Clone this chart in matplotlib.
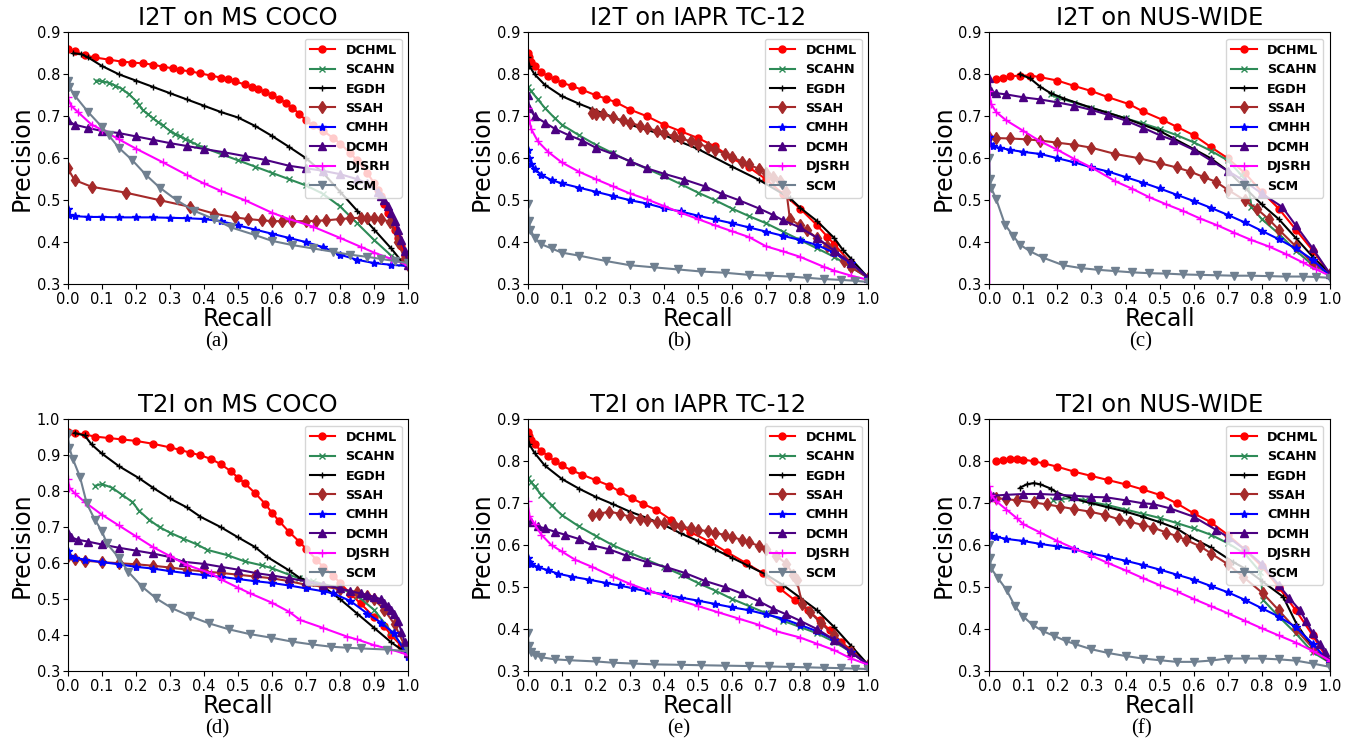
import numpy as np
import matplotlib
matplotlib.use("Agg")
import matplotlib.pyplot as plt

# ---- methods / legend ----
METHODS = ["DCHML", "SCAHN", "EGDH", "SSAH", "CMHH", "DCMH", "DJSRH", "SCM"]

# ---- (a) I2T on MS COCO : (recall, precision) ----
A_DCHML = [(0.0, 0.86), (0.02, 0.855), (0.05, 0.845), (0.08, 0.84), (0.12, 0.835), (0.16, 0.83),
           (0.19, 0.828), (0.22, 0.826), (0.25, 0.823), (0.28, 0.818), (0.31, 0.814), (0.33, 0.81),
           (0.36, 0.807), (0.39, 0.802), (0.42, 0.797), (0.45, 0.792), (0.47, 0.788), (0.49, 0.783),
           (0.52, 0.776), (0.54, 0.77), (0.56, 0.764), (0.58, 0.758), (0.6, 0.75), (0.62, 0.742),
           (0.64, 0.732), (0.66, 0.72), (0.68, 0.706), (0.7, 0.69), (0.72, 0.678), (0.75, 0.665),
           (0.78, 0.648), (0.8, 0.635), (0.83, 0.612), (0.85, 0.595), (0.88, 0.565), (0.9, 0.54),
           (0.91, 0.525), (0.92, 0.51), (0.93, 0.49), (0.94, 0.47), (0.95, 0.45), (0.96, 0.43),
           (0.97, 0.41), (0.98, 0.39), (0.99, 0.368), (1.0, 0.345)]
A_SCAHN = [(0.084, 0.785), (0.1, 0.783), (0.12, 0.78), (0.14, 0.773), (0.16, 0.765), (0.18, 0.752),
           (0.2, 0.737), (0.21, 0.726), (0.22, 0.715), (0.235, 0.705), (0.25, 0.695), (0.265, 0.686),
           (0.28, 0.678), (0.3, 0.665), (0.315, 0.658), (0.33, 0.652), (0.345, 0.646), (0.36, 0.64),
           (0.38, 0.632), (0.4, 0.625), (0.45, 0.61), (0.5, 0.595), (0.55, 0.58), (0.6, 0.565),
           (0.65, 0.55), (0.7, 0.535), (0.75, 0.515), (0.8, 0.485), (0.85, 0.445), (0.9, 0.405),
           (0.95, 0.368), (0.98, 0.35), (1.0, 0.345)]
A_EGDH = [(0.017, 0.85), (0.04, 0.848), (0.06, 0.84), (0.1, 0.82), (0.15, 0.80), (0.2, 0.785),
          (0.25, 0.77), (0.3, 0.755), (0.35, 0.74), (0.4, 0.725), (0.45, 0.71), (0.5, 0.697),
          (0.55, 0.677), (0.6, 0.653), (0.65, 0.627), (0.7, 0.6), (0.75, 0.565), (0.8, 0.52),
          (0.85, 0.475), (0.9, 0.43), (0.95, 0.385), (0.98, 0.355), (1.0, 0.345)]
A_SSAH = [(0.0, 0.576), (0.02, 0.548), (0.07, 0.532), (0.17, 0.518), (0.27, 0.5), (0.36, 0.484),
          (0.43, 0.468), (0.49, 0.459), (0.53, 0.455), (0.57, 0.452), (0.6, 0.45), (0.63, 0.45),
          (0.66, 0.45), (0.7, 0.45), (0.73, 0.451), (0.76, 0.452), (0.8, 0.455), (0.83, 0.457),
          (0.86, 0.458), (0.88, 0.457), (0.9, 0.457), (0.92, 0.455), (0.948, 0.448), (0.97, 0.4),
          (0.99, 0.36), (1.0, 0.345)]
A_CMHH = [(0.0, 0.48), (0.005, 0.465), (0.02, 0.462), (0.06, 0.46), (0.1, 0.46), (0.15, 0.459),
          (0.2, 0.459), (0.25, 0.459), (0.3, 0.458), (0.35, 0.457), (0.4, 0.455), (0.45, 0.45),
          (0.5, 0.44), (0.55, 0.43), (0.6, 0.42), (0.65, 0.41), (0.7, 0.4), (0.75, 0.388),
          (0.8, 0.37), (0.85, 0.358), (0.9, 0.35), (0.95, 0.346), (1.0, 0.343)]
A_DCMH = [(0.0, 0.69), (0.02, 0.68), (0.06, 0.672), (0.1, 0.665), (0.15, 0.66), (0.2, 0.652),
          (0.25, 0.644), (0.3, 0.636), (0.35, 0.629), (0.4, 0.622), (0.46, 0.614), (0.52, 0.605),
          (0.58, 0.596), (0.65, 0.582), (0.7, 0.576), (0.75, 0.57), (0.8, 0.562), (0.85, 0.55),
          (0.88, 0.54), (0.91, 0.52), (0.92, 0.51), (0.93, 0.5), (0.94, 0.485), (0.95, 0.47),
          (0.96, 0.45), (0.97, 0.43), (0.98, 0.405), (0.99, 0.38), (1.0, 0.345)]
A_DJSRH = [(0.0, 0.745), (0.01, 0.725), (0.03, 0.71), (0.07, 0.68), (0.1, 0.668), (0.15, 0.645),
           (0.2, 0.623), (0.28, 0.59), (0.35, 0.56), (0.4, 0.54), (0.45, 0.522), (0.52, 0.5),
           (0.6, 0.47), (0.65, 0.455), (0.72, 0.437), (0.8, 0.41), (0.86, 0.389), (0.9, 0.375),
           (0.95, 0.36), (1.0, 0.345)]
A_SCM = [(0.0, 0.785), (0.005, 0.77), (0.02, 0.75), (0.06, 0.71), (0.1, 0.675), (0.12, 0.655),
         (0.15, 0.625), (0.19, 0.595), (0.23, 0.56), (0.27, 0.53), (0.32, 0.5), (0.37, 0.475),
         (0.43, 0.455), (0.48, 0.435), (0.55, 0.417), (0.6, 0.403), (0.66, 0.393), (0.72, 0.385),
         (0.78, 0.377), (0.83, 0.37), (0.88, 0.365), (0.92, 0.36), (0.96, 0.355), (1.0, 0.35)]

# ---- (b) I2T on IAPR TC-12 ----
B_DCHML = [(0.0, 0.85), (0.005, 0.84), (0.01, 0.83), (0.02, 0.82), (0.04, 0.805), (0.06, 0.795),
           (0.08, 0.788), (0.1, 0.78), (0.13, 0.772), (0.16, 0.763), (0.2, 0.75), (0.23, 0.742),
           (0.26, 0.733), (0.3, 0.716), (0.35, 0.7), (0.4, 0.68), (0.45, 0.664), (0.5, 0.648),
           (0.55, 0.628), (0.6, 0.6), (0.65, 0.578), (0.7, 0.55), (0.75, 0.515), (0.8, 0.48),
           (0.85, 0.44), (0.88, 0.413), (0.9, 0.395), (0.95, 0.35), (1.0, 0.315)]
B_SCAHN = [(0.0, 0.77), (0.01, 0.76), (0.03, 0.74), (0.05, 0.72), (0.08, 0.695), (0.1, 0.68),
           (0.15, 0.655), (0.2, 0.632), (0.25, 0.612), (0.3, 0.592), (0.35, 0.575), (0.4, 0.557),
           (0.45, 0.538), (0.5, 0.518), (0.55, 0.5), (0.6, 0.48), (0.65, 0.462), (0.7, 0.445),
           (0.75, 0.425), (0.8, 0.405), (0.85, 0.385), (0.9, 0.365), (0.95, 0.34), (1.0, 0.315)]
B_EGDH = [(0.0, 0.84), (0.005, 0.82), (0.02, 0.8), (0.05, 0.775), (0.1, 0.748), (0.15, 0.73),
          (0.19, 0.717), (0.25, 0.698), (0.3, 0.68), (0.4, 0.655), (0.5, 0.622), (0.6, 0.58),
          (0.68, 0.548), (0.77, 0.505), (0.8, 0.482), (0.85, 0.45), (0.9, 0.41), (0.926, 0.381),
          (0.95, 0.36), (1.0, 0.315)]
B_SSAH = [(0.188, 0.707), (0.2, 0.706), (0.22, 0.705), (0.25, 0.697), (0.28, 0.69), (0.3, 0.685),
          (0.33, 0.677), (0.35, 0.672), (0.38, 0.665), (0.4, 0.66), (0.43, 0.652), (0.45, 0.647),
          (0.48, 0.64), (0.5, 0.635), (0.53, 0.626), (0.55, 0.62), (0.58, 0.61), (0.6, 0.603),
          (0.63, 0.592), (0.65, 0.585), (0.68, 0.574), (0.7, 0.565), (0.72, 0.556), (0.74, 0.545),
          (0.76, 0.52), (0.77, 0.455), (0.8, 0.44), (0.82, 0.428), (0.85, 0.41), (0.88, 0.39),
          (0.9, 0.378), (0.93, 0.355), (0.95, 0.34), (1.0, 0.315)]
B_CMHH = [(0.0, 0.62), (0.003, 0.6), (0.01, 0.585), (0.02, 0.575), (0.04, 0.56), (0.07, 0.548),
          (0.1, 0.54), (0.15, 0.53), (0.2, 0.52), (0.25, 0.51), (0.3, 0.5), (0.35, 0.492),
          (0.4, 0.481), (0.45, 0.473), (0.5, 0.463), (0.55, 0.454), (0.6, 0.445), (0.65, 0.435),
          (0.7, 0.425), (0.75, 0.415), (0.8, 0.405), (0.85, 0.393), (0.9, 0.375), (0.95, 0.35),
          (1.0, 0.315)]
B_DCMH = [(0.0, 0.75), (0.005, 0.72), (0.02, 0.7), (0.05, 0.685), (0.08, 0.67), (0.12, 0.655),
          (0.16, 0.642), (0.2, 0.625), (0.25, 0.61), (0.3, 0.593), (0.35, 0.576), (0.4, 0.563),
          (0.46, 0.549), (0.52, 0.533), (0.57, 0.515), (0.62, 0.5), (0.68, 0.48), (0.72, 0.465),
          (0.75, 0.452), (0.8, 0.435), (0.85, 0.41), (0.9, 0.38), (0.95, 0.35), (1.0, 0.315)]
B_DJSRH = [(0.0, 0.0), (0.0, 0.72), (0.005, 0.69), (0.01, 0.67), (0.03, 0.64), (0.06, 0.615),
           (0.1, 0.59), (0.15, 0.568), (0.2, 0.55), (0.25, 0.533), (0.3, 0.516), (0.35, 0.502),
           (0.4, 0.486), (0.45, 0.47), (0.5, 0.455), (0.55, 0.44), (0.6, 0.426), (0.65, 0.412),
           (0.7, 0.39), (0.75, 0.378), (0.8, 0.365), (0.87, 0.341), (0.9, 0.332), (0.95, 0.32),
           (1.0, 0.31)]
B_SCM = [(0.0, 0.49), (0.003, 0.45), (0.008, 0.43), (0.02, 0.41), (0.04, 0.395), (0.07, 0.385),
         (0.1, 0.375), (0.15, 0.368), (0.23, 0.355), (0.3, 0.345), (0.37, 0.34), (0.44, 0.335),
         (0.51, 0.33), (0.58, 0.327), (0.65, 0.322), (0.71, 0.32), (0.77, 0.318), (0.82, 0.315),
         (0.87, 0.312), (0.92, 0.31), (0.96, 0.308), (1.0, 0.305)]

# ---- (c) I2T on NUS-WIDE ----
C_DCHML = [(0.02, 0.788), (0.04, 0.79), (0.06, 0.795), (0.09, 0.797), (0.12, 0.797), (0.15, 0.793),
           (0.2, 0.785), (0.25, 0.772), (0.3, 0.76), (0.35, 0.745), (0.41, 0.729), (0.45, 0.712),
           (0.51, 0.691), (0.55, 0.675), (0.6, 0.655), (0.65, 0.627), (0.7, 0.6), (0.75, 0.565),
           (0.8, 0.52), (0.85, 0.48), (0.9, 0.43), (0.95, 0.38), (1.0, 0.325)]
C_SCAHN = [(0.18, 0.752), (0.2, 0.745), (0.25, 0.732), (0.3, 0.72), (0.35, 0.708), (0.4, 0.695),
           (0.45, 0.683), (0.5, 0.67), (0.55, 0.655), (0.6, 0.638), (0.65, 0.618), (0.7, 0.595),
           (0.74, 0.56), (0.76, 0.54), (0.77, 0.484), (0.8, 0.455), (0.85, 0.42), (0.9, 0.38),
           (0.95, 0.345), (1.0, 0.325)]
C_EGDH = [(0.09, 0.8), (0.12, 0.79), (0.15, 0.77), (0.18, 0.755), (0.22, 0.742), (0.3, 0.72),
          (0.4, 0.695), (0.5, 0.665), (0.6, 0.622), (0.65, 0.6), (0.7, 0.57), (0.75, 0.53),
          (0.8, 0.49), (0.85, 0.455), (0.9, 0.41), (0.95, 0.365), (1.0, 0.325)]
C_SSAH = [(0.0, 0.65), (0.02, 0.648), (0.06, 0.647), (0.11, 0.645), (0.15, 0.642), (0.2, 0.637),
          (0.25, 0.632), (0.3, 0.625), (0.37, 0.61), (0.44, 0.6), (0.5, 0.588), (0.55, 0.578),
          (0.59, 0.568), (0.63, 0.555), (0.665, 0.544), (0.7, 0.525), (0.75, 0.5), (0.785, 0.48),
          (0.82, 0.455), (0.85, 0.43), (0.9, 0.39), (0.95, 0.35), (1.0, 0.325)]
C_CMHH = [(0.0, 0.65), (0.003, 0.635), (0.01, 0.628), (0.03, 0.625), (0.06, 0.62), (0.1, 0.615),
          (0.15, 0.61), (0.2, 0.6), (0.25, 0.59), (0.3, 0.578), (0.35, 0.568), (0.4, 0.555),
          (0.45, 0.542), (0.5, 0.528), (0.55, 0.513), (0.6, 0.498), (0.65, 0.482), (0.7, 0.465),
          (0.75, 0.447), (0.8, 0.427), (0.85, 0.407), (0.9, 0.385), (0.95, 0.358), (1.0, 0.32)]
C_DCMH = [(0.0, 0.79), (0.005, 0.76), (0.02, 0.755), (0.05, 0.752), (0.1, 0.745), (0.15, 0.74),
          (0.2, 0.733), (0.25, 0.725), (0.3, 0.715), (0.35, 0.703), (0.4, 0.69), (0.45, 0.673),
          (0.5, 0.655), (0.54, 0.643), (0.6, 0.62), (0.65, 0.595), (0.7, 0.57), (0.75, 0.545),
          (0.8, 0.516), (0.86, 0.484), (0.9, 0.44), (0.95, 0.385), (1.0, 0.325)]
C_DJSRH = [(0.0, 0.0), (0.0, 0.76), (0.005, 0.73), (0.02, 0.71), (0.05, 0.69), (0.1, 0.665),
           (0.15, 0.64), (0.2, 0.62), (0.25, 0.598), (0.3, 0.578), (0.37, 0.545), (0.42, 0.527),
           (0.47, 0.507), (0.52, 0.49), (0.57, 0.474), (0.62, 0.456), (0.67, 0.44), (0.72, 0.422),
           (0.77, 0.405), (0.82, 0.39), (0.87, 0.372), (0.92, 0.352), (0.96, 0.335), (1.0, 0.32)]
C_SCM = [(0.0, 0.6), (0.002, 0.55), (0.005, 0.53), (0.02, 0.503), (0.046, 0.442), (0.07, 0.415),
         (0.09, 0.394), (0.12, 0.378), (0.158, 0.363), (0.217, 0.345), (0.27, 0.338), (0.32, 0.334),
         (0.37, 0.331), (0.42, 0.328), (0.47, 0.326), (0.52, 0.325), (0.57, 0.323), (0.62, 0.322),
         (0.67, 0.321), (0.72, 0.32), (0.77, 0.32), (0.82, 0.319), (0.87, 0.318), (0.92, 0.318),
         (0.96, 0.317), (1.0, 0.315)]

# ---- (d) T2I on MS COCO ----
D_DCHML = [(0.0, 0.965), (0.02, 0.962), (0.05, 0.958), (0.08, 0.952), (0.12, 0.948), (0.16, 0.944),
           (0.2, 0.94), (0.25, 0.932), (0.3, 0.922), (0.33, 0.915), (0.36, 0.907), (0.39, 0.9),
           (0.42, 0.89), (0.45, 0.875), (0.48, 0.855), (0.5, 0.838), (0.52, 0.822), (0.55, 0.795),
           (0.58, 0.765), (0.6, 0.74), (0.62, 0.718), (0.65, 0.687), (0.68, 0.66), (0.7, 0.64),
           (0.73, 0.61), (0.75, 0.59), (0.78, 0.565), (0.8, 0.545), (0.83, 0.515), (0.86, 0.488),
           (0.9, 0.45), (0.93, 0.424), (0.95, 0.4), (0.98, 0.37), (1.0, 0.35)]
D_SCAHN = [(0.08, 0.815), (0.1, 0.82), (0.13, 0.81), (0.16, 0.79), (0.19, 0.77), (0.21, 0.745),
           (0.24, 0.72), (0.27, 0.7), (0.3, 0.685), (0.34, 0.668), (0.38, 0.652), (0.41, 0.637),
           (0.47, 0.622), (0.52, 0.605), (0.57, 0.594), (0.6, 0.586), (0.65, 0.568), (0.68, 0.558),
           (0.72, 0.55), (0.8, 0.53), (0.85, 0.51), (0.9, 0.47), (0.95, 0.41), (1.0, 0.35)]
D_EGDH = [(0.02, 0.962), (0.05, 0.955), (0.07, 0.93), (0.1, 0.905), (0.15, 0.87), (0.21, 0.836),
          (0.25, 0.81), (0.3, 0.78), (0.35, 0.755), (0.39, 0.729), (0.45, 0.7), (0.5, 0.672),
          (0.55, 0.645), (0.585, 0.618), (0.65, 0.58), (0.683, 0.558), (0.72, 0.545), (0.75, 0.535),
          (0.8, 0.5), (0.85, 0.46), (0.9, 0.42), (0.95, 0.38), (0.98, 0.36), (1.0, 0.345)]
D_SSAH = [(0.0, 0.62), (0.02, 0.612), (0.05, 0.607), (0.1, 0.603), (0.15, 0.6), (0.2, 0.597),
          (0.25, 0.593), (0.3, 0.588), (0.35, 0.582), (0.4, 0.577), (0.45, 0.573), (0.5, 0.568),
          (0.55, 0.563), (0.6, 0.558), (0.65, 0.55), (0.7, 0.54), (0.75, 0.535), (0.8, 0.528),
          (0.85, 0.52), (0.88, 0.51), (0.9, 0.5), (0.93, 0.47), (0.96, 0.43), (1.0, 0.35)]
D_CMHH = [(0.0, 0.635), (0.005, 0.62), (0.02, 0.615), (0.05, 0.61), (0.1, 0.603), (0.15, 0.597),
          (0.2, 0.59), (0.25, 0.585), (0.3, 0.578), (0.35, 0.572), (0.4, 0.567), (0.45, 0.562),
          (0.5, 0.556), (0.55, 0.55), (0.6, 0.545), (0.65, 0.538), (0.7, 0.53), (0.75, 0.522),
          (0.78, 0.516), (0.83, 0.495), (0.88, 0.46), (0.92, 0.435), (0.958, 0.405), (1.0, 0.34)]
D_DCMH = [(0.0, 0.685), (0.01, 0.672), (0.03, 0.665), (0.06, 0.66), (0.1, 0.652), (0.15, 0.643),
          (0.2, 0.635), (0.25, 0.627), (0.3, 0.617), (0.34, 0.604), (0.4, 0.598), (0.45, 0.59),
          (0.5, 0.582), (0.556, 0.572), (0.6, 0.566), (0.65, 0.558), (0.7, 0.55), (0.75, 0.54),
          (0.8, 0.53), (0.83, 0.522), (0.86, 0.516), (0.88, 0.512), (0.9, 0.506), (0.92, 0.5),
          (0.93, 0.49), (0.94, 0.48), (0.95, 0.47), (0.958, 0.46), (0.97, 0.44), (0.98, 0.41),
          (0.99, 0.38), (1.0, 0.35)]
D_DJSRH = [(0.0, 0.835), (0.005, 0.81), (0.02, 0.795), (0.05, 0.77), (0.1, 0.735), (0.15, 0.705),
           (0.2, 0.675), (0.25, 0.645), (0.3, 0.62), (0.35, 0.595), (0.42, 0.572), (0.45, 0.555),
           (0.5, 0.532), (0.536, 0.516), (0.6, 0.49), (0.65, 0.465), (0.683, 0.442), (0.75, 0.42),
           (0.82, 0.396), (0.85, 0.388), (0.9, 0.372), (0.95, 0.36), (1.0, 0.345)]
D_SCM = [(0.0, 0.96), (0.005, 0.92), (0.015, 0.89), (0.036, 0.84), (0.056, 0.766), (0.08, 0.72),
         (0.1, 0.69), (0.115, 0.655), (0.15, 0.615), (0.178, 0.576), (0.218, 0.535), (0.26, 0.502),
         (0.306, 0.475), (0.358, 0.453), (0.414, 0.433), (0.474, 0.416), (0.534, 0.403),
         (0.597, 0.393), (0.659, 0.382), (0.718, 0.374), (0.772, 0.368), (0.82, 0.365),
         (0.86, 0.363), (0.938, 0.36), (1.0, 0.355)]

# ---- (e) T2I on IAPR TC-12 ----
E_DCHML = [(0.0, 0.87), (0.005, 0.86), (0.01, 0.85), (0.02, 0.84), (0.04, 0.825), (0.06, 0.812),
           (0.08, 0.8), (0.1, 0.79), (0.13, 0.778), (0.16, 0.768), (0.2, 0.755), (0.24, 0.742),
           (0.27, 0.728), (0.305, 0.712), (0.34, 0.698), (0.378, 0.684), (0.422, 0.66),
           (0.476, 0.632), (0.535, 0.608), (0.584, 0.584), (0.642, 0.557), (0.691, 0.533),
           (0.74, 0.497), (0.784, 0.469), (0.823, 0.445), (0.857, 0.421), (0.887, 0.398),
           (0.92, 0.37), (0.95, 0.35), (1.0, 0.315)]
E_SCAHN = [(0.0, 0.76), (0.01, 0.75), (0.02, 0.74), (0.04, 0.72), (0.07, 0.695), (0.1, 0.672),
           (0.15, 0.645), (0.2, 0.622), (0.25, 0.6), (0.3, 0.582), (0.35, 0.565), (0.4, 0.548),
           (0.45, 0.53), (0.5, 0.51), (0.55, 0.492), (0.6, 0.472), (0.65, 0.455), (0.7, 0.438),
           (0.75, 0.42), (0.8, 0.405), (0.85, 0.39), (0.9, 0.37), (0.95, 0.345), (1.0, 0.315)]
E_EGDH = [(0.0, 0.86), (0.005, 0.84), (0.02, 0.82), (0.05, 0.79), (0.1, 0.758), (0.15, 0.735),
          (0.2, 0.715), (0.25, 0.698), (0.3, 0.68), (0.35, 0.665), (0.4, 0.648), (0.45, 0.628),
          (0.5, 0.61), (0.55, 0.59), (0.6, 0.57), (0.65, 0.55), (0.7, 0.53), (0.75, 0.505),
          (0.8, 0.475), (0.85, 0.445), (0.9, 0.405), (0.95, 0.36), (1.0, 0.315)]
E_SSAH = [(0.19, 0.672), (0.21, 0.675), (0.24, 0.68), (0.27, 0.675), (0.3, 0.668), (0.33, 0.663),
          (0.35, 0.66), (0.38, 0.655), (0.4, 0.652), (0.43, 0.648), (0.45, 0.645), (0.48, 0.64),
          (0.5, 0.637), (0.53, 0.633), (0.55, 0.63), (0.58, 0.624), (0.6, 0.62), (0.63, 0.612),
          (0.65, 0.607), (0.68, 0.598), (0.7, 0.59), (0.73, 0.575), (0.76, 0.555), (0.78, 0.53),
          (0.79, 0.517), (0.806, 0.461), (0.83, 0.44), (0.86, 0.415), (0.9, 0.385), (0.95, 0.345),
          (1.0, 0.315)]
E_CMHH = [(0.0, 0.57), (0.005, 0.56), (0.01, 0.555), (0.03, 0.548), (0.06, 0.54), (0.09, 0.532),
          (0.13, 0.525), (0.18, 0.518), (0.23, 0.51), (0.27, 0.504), (0.31, 0.497), (0.35, 0.49),
          (0.4, 0.483), (0.45, 0.475), (0.5, 0.468), (0.55, 0.46), (0.6, 0.452), (0.65, 0.445),
          (0.7, 0.435), (0.75, 0.425), (0.8, 0.41), (0.85, 0.395), (0.9, 0.375), (0.95, 0.345),
          (1.0, 0.315)]
E_DCMH = [(0.0, 0.665), (0.01, 0.655), (0.03, 0.645), (0.05, 0.64), (0.08, 0.632), (0.11, 0.625),
          (0.15, 0.615), (0.19, 0.6), (0.24, 0.59), (0.29, 0.575), (0.349, 0.56), (0.41, 0.547),
          (0.461, 0.534), (0.52, 0.515), (0.58, 0.5), (0.628, 0.485), (0.68, 0.466), (0.72, 0.449),
          (0.76, 0.435), (0.8, 0.42), (0.85, 0.4), (0.9, 0.375), (0.95, 0.345), (1.0, 0.315)]
E_DJSRH = [(0.0, 0.0), (0.0, 0.705), (0.005, 0.67), (0.02, 0.65), (0.04, 0.625), (0.07, 0.6),
           (0.1, 0.585), (0.14, 0.565), (0.19, 0.548), (0.25, 0.525), (0.3, 0.508), (0.36, 0.49),
           (0.42, 0.475), (0.5, 0.455), (0.56, 0.44), (0.62, 0.425), (0.68, 0.41), (0.73, 0.395),
           (0.8, 0.38), (0.85, 0.365), (0.9, 0.35), (0.95, 0.33), (1.0, 0.315)]
E_SCM = [(0.0, 0.39), (0.003, 0.36), (0.01, 0.345), (0.02, 0.338), (0.04, 0.333), (0.08, 0.328),
         (0.12, 0.326), (0.2, 0.323), (0.25, 0.32), (0.31, 0.318), (0.37, 0.316), (0.45, 0.315),
         (0.51, 0.314), (0.58, 0.313), (0.65, 0.312), (0.71, 0.311), (0.77, 0.31), (0.82, 0.309),
         (0.87, 0.308), (0.92, 0.307), (0.96, 0.306), (1.0, 0.305)]

# ---- (f) T2I on NUS-WIDE ----
F_DCHML = [(0.02, 0.8), (0.04, 0.804), (0.06, 0.805), (0.08, 0.806), (0.1, 0.804), (0.13, 0.8),
           (0.16, 0.795), (0.2, 0.787), (0.25, 0.775), (0.3, 0.765), (0.35, 0.755), (0.4, 0.745),
           (0.45, 0.733), (0.5, 0.72), (0.55, 0.7), (0.6, 0.676), (0.65, 0.655), (0.7, 0.625),
           (0.75, 0.59), (0.8, 0.55), (0.85, 0.5), (0.9, 0.445), (0.95, 0.385), (1.0, 0.32)]
F_SCAHN = [(0.188, 0.708), (0.21, 0.71), (0.24, 0.712), (0.28, 0.708), (0.3, 0.703), (0.35, 0.695),
           (0.4, 0.685), (0.45, 0.675), (0.5, 0.665), (0.55, 0.653), (0.6, 0.64), (0.65, 0.625),
           (0.7, 0.605), (0.75, 0.58), (0.795, 0.537), (0.805, 0.469), (0.85, 0.43), (0.9, 0.39),
           (0.95, 0.345), (1.0, 0.32)]
F_EGDH = [(0.09, 0.737), (0.11, 0.745), (0.13, 0.748), (0.15, 0.745), (0.18, 0.735), (0.2, 0.725),
          (0.25, 0.71), (0.3, 0.7), (0.35, 0.69), (0.4, 0.68), (0.45, 0.668), (0.5, 0.655),
          (0.55, 0.64), (0.589, 0.62), (0.65, 0.595), (0.716, 0.56), (0.75, 0.545), (0.8, 0.515),
          (0.863, 0.477), (0.902, 0.413), (0.95, 0.355), (1.0, 0.32)]
F_SSAH = [(0.0, 0.715), (0.02, 0.712), (0.05, 0.71), (0.08, 0.707), (0.13, 0.702), (0.17, 0.697),
          (0.207, 0.692), (0.25, 0.686), (0.295, 0.68), (0.34, 0.672), (0.38, 0.662), (0.413, 0.656),
          (0.45, 0.648), (0.481, 0.642), (0.52, 0.63), (0.55, 0.622), (0.579, 0.612), (0.62, 0.597),
          (0.652, 0.58), (0.7, 0.555), (0.745, 0.525), (0.804, 0.485), (0.85, 0.445), (0.9, 0.4),
          (0.95, 0.355), (1.0, 0.32)]
F_CMHH = [(0.0, 0.63), (0.005, 0.622), (0.02, 0.62), (0.05, 0.615), (0.1, 0.61), (0.15, 0.603),
          (0.2, 0.597), (0.25, 0.59), (0.3, 0.58), (0.35, 0.572), (0.4, 0.563), (0.45, 0.553),
          (0.5, 0.542), (0.55, 0.53), (0.6, 0.518), (0.65, 0.503), (0.7, 0.488), (0.75, 0.47),
          (0.8, 0.45), (0.85, 0.43), (0.9, 0.405), (0.95, 0.365), (1.0, 0.32)]
F_DCMH = [(0.0, 0.715), (0.01, 0.718), (0.05, 0.72), (0.1, 0.722), (0.15, 0.722), (0.2, 0.72),
          (0.25, 0.718), (0.3, 0.715), (0.344, 0.714), (0.4, 0.707), (0.45, 0.7), (0.481, 0.698),
          (0.53, 0.688), (0.6, 0.668), (0.667, 0.636), (0.7, 0.62), (0.75, 0.59), (0.8, 0.555),
          (0.85, 0.505), (0.88, 0.475), (0.912, 0.445), (0.93, 0.42), (0.95, 0.39), (0.97, 0.365),
          (0.985, 0.345), (1.0, 0.325)]
F_DJSRH = [(0.0, 0.0), (0.0, 0.74), (0.005, 0.72), (0.02, 0.705), (0.05, 0.685), (0.08, 0.665),
           (0.1, 0.65), (0.15, 0.63), (0.2, 0.61), (0.25, 0.592), (0.3, 0.575), (0.35, 0.557),
           (0.4, 0.54), (0.45, 0.522), (0.5, 0.505), (0.55, 0.49), (0.6, 0.472), (0.65, 0.455),
           (0.7, 0.438), (0.75, 0.42), (0.8, 0.402), (0.85, 0.385), (0.9, 0.368), (0.95, 0.348),
           (1.0, 0.325)]
F_SCM = [(0.0, 0.6), (0.002, 0.57), (0.005, 0.545), (0.026, 0.521), (0.051, 0.493), (0.075, 0.455),
         (0.1, 0.43), (0.127, 0.41), (0.158, 0.395), (0.19, 0.384), (0.224, 0.372), (0.253, 0.364),
         (0.3, 0.352), (0.35, 0.343), (0.4, 0.336), (0.45, 0.33), (0.5, 0.326), (0.55, 0.322),
         (0.6, 0.322), (0.65, 0.325), (0.7, 0.33), (0.75, 0.33), (0.8, 0.33), (0.85, 0.328),
         (0.9, 0.325), (0.95, 0.318), (1.0, 0.31)]

TITLES = ["I2T on MS COCO", "I2T on IAPR TC-12", "I2T on NUS-WIDE",
          "T2I on MS COCO", "T2I on IAPR TC-12", "T2I on NUS-WIDE"]
CAPTIONS = ["(a)", "(b)", "(c)", "(d)", "(e)", "(f)"]
YLIMS = [(0.3, 0.9), (0.3, 0.9), (0.3, 0.9), (0.3, 1.0), (0.3, 0.9), (0.3, 0.9)]
SERIES = [
    [A_DCHML, A_SCAHN, A_EGDH, A_SSAH, A_CMHH, A_DCMH, A_DJSRH, A_SCM],
    [B_DCHML, B_SCAHN, B_EGDH, B_SSAH, B_CMHH, B_DCMH, B_DJSRH, B_SCM],
    [C_DCHML, C_SCAHN, C_EGDH, C_SSAH, C_CMHH, C_DCMH, C_DJSRH, C_SCM],
    [D_DCHML, D_SCAHN, D_EGDH, D_SSAH, D_CMHH, D_DCMH, D_DJSRH, D_SCM],
    [E_DCHML, E_SCAHN, E_EGDH, E_SSAH, E_CMHH, E_DCMH, E_DJSRH, E_SCM],
    [F_DCHML, F_SCAHN, F_EGDH, F_SSAH, F_CMHH, F_DCMH, F_DJSRH, F_SCM],
]

# line styles per method
STYLES = {
    "DCHML": dict(color="red", marker="o", ms=5),
    "SCAHN": dict(color="seagreen", marker="x", ms=5),
    "EGDH": dict(color="black", marker="+", ms=4),
    "SSAH": dict(color="brown", marker="d", ms=6),
    "CMHH": dict(color="blue", marker="*", ms=6),
    "DCMH": dict(color="indigo", marker="^", ms=6),
    "DJSRH": dict(color="magenta", marker="+", ms=6),
    "SCM": dict(color="slategray", marker="v", ms=6),
}

W, H = 1354, 742
fig = plt.figure(figsize=(W / 100, H / 100), dpi=100)

col_left = [67.7, 527.7, 989.3]
ax_w = 340.5
row_top = [32.3, 419.3]
ax_h = 251.8
cap_y = [342, 729]
cap_x = [217, 679, 1141]

for i in range(6):
    r, c = divmod(i, 3)
    ax = fig.add_axes([col_left[c] / W, (H - row_top[r] - ax_h) / H, ax_w / W, ax_h / H])
    for name, pts in zip(METHODS, SERIES[i]):
        pts = np.array(pts)
        st = STYLES[name]
        ax.plot(pts[:, 0], pts[:, 1], color=st["color"], marker=st["marker"],
                markersize=st["ms"], linewidth=1.5, label=name)
    ax.set_xlim(0, 1)
    ax.set_ylim(*YLIMS[i])
    ax.set_xticks(np.arange(0, 1.01, 0.1))
    ax.set_yticks(np.arange(YLIMS[i][0], YLIMS[i][1] + 0.001, 0.1))
    ax.xaxis.set_major_formatter(matplotlib.ticker.FormatStrFormatter("%.1f"))
    ax.yaxis.set_major_formatter(matplotlib.ticker.FormatStrFormatter("%.1f"))
    ax.tick_params(labelsize=10.5, pad=2)
    ax.set_title(TITLES[i], fontsize=17.5, pad=5)
    ax.set_xlabel("Recall", fontsize=17, labelpad=0)
    ax.set_ylabel("Precision", fontsize=17, labelpad=2)
    ax.legend(loc="upper right", prop=dict(weight="bold", size=9.2),
              borderaxespad=0.5)
    fig.text(cap_x[c] / W, (H - cap_y[r]) / H, CAPTIONS[i], ha="center", va="center",
             fontsize=15, family="Liberation Serif")

fig.savefig("out.png", dpi=100)
